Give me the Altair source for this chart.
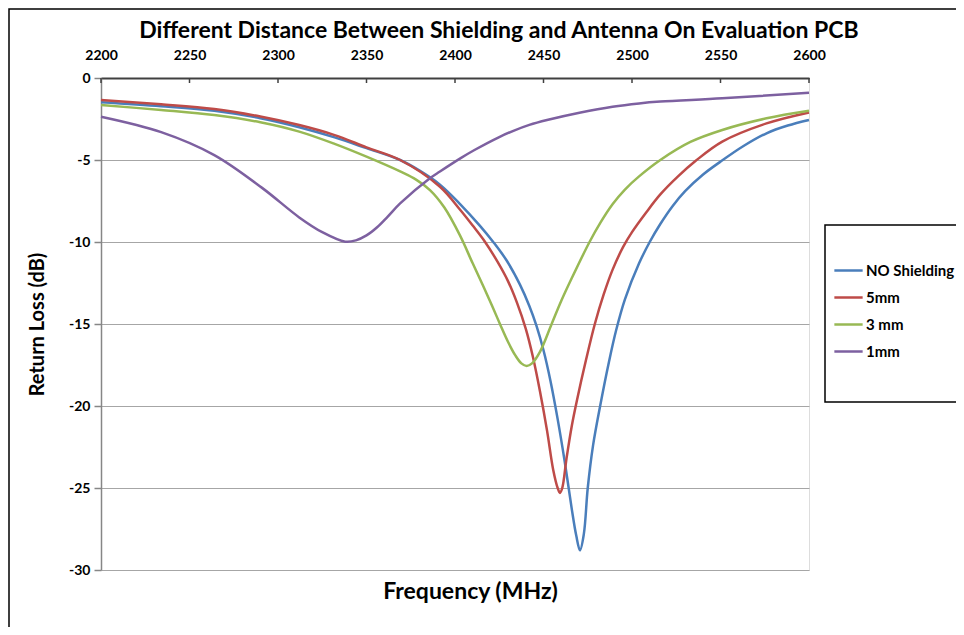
import altair as alt
import pandas as pd

# ---------------- data ----------------
series_names = ["NO Shielding", "5mm", "3 mm", "1mm"]
series_colors = ["#4a7ebb", "#be4b48", "#98b954", "#7d60a0"]

x_ticks = [2200, 2250, 2300, 2350, 2400, 2450, 2500, 2550, 2600]
y_ticks = [0, -5, -10, -15, -20, -25, -30]

freq_none = [2200, 2234, 2264, 2290, 2312, 2332, 2350, 2369, 2380, 2391.5, 2403, 2414,
             2421.6, 2429, 2436.7, 2442, 2446, 2450, 2454, 2458, 2462, 2466, 2468.5,
             2470.6, 2472.8, 2475, 2478, 2482, 2487, 2491, 2496, 2504, 2510, 2516, 2523,
             2530, 2540, 2550, 2563, 2576, 2588, 2600]
rl_none = [-1.48, -1.72, -2.0, -2.45, -3.0, -3.62, -4.28, -5.0, -5.65, -6.5, -7.7, -9.0,
           -10.0, -11.1, -12.6, -13.9, -15.1, -16.6, -18.5, -20.8, -23.4, -26.3, -27.9,
           -28.8, -27.8, -25.0, -22.4, -20.0, -17.3, -15.4, -13.5, -11.3, -10.0, -8.9, -7.8,
           -6.9, -5.9, -5.1, -4.15, -3.37, -2.9, -2.56]

freq_5mm = [2200, 2234, 2264, 2290, 2312, 2332, 2350, 2369, 2391.5, 2403, 2410, 2417,
            2424, 2430, 2435, 2440, 2444, 2448, 2452, 2455.5, 2458, 2459.3, 2460.6,
            2463, 2466, 2469, 2474, 2479, 2484, 2489, 2495, 2500, 2508, 2516, 2526,
            2536, 2551, 2576, 2600]
rl_5mm = [-1.34, -1.6, -1.89, -2.35, -2.87, -3.48, -4.23, -5.0, -6.63, -8.05, -9.0, -10.0,
          -11.2, -12.4, -13.7, -15.3, -17.0, -19.1, -21.5, -23.9, -25.0, -25.3, -25.0,
          -23.2, -21.2, -19.6, -17.2, -15.0, -13.2, -11.7, -10.3, -9.4, -8.2, -7.1, -6.0,
          -5.05, -3.88, -2.77, -2.1]

freq_3mm = [2200, 2234, 2264, 2290, 2312, 2332, 2350, 2369, 2378, 2386, 2394, 2402.8,
            2410, 2416, 2421, 2425.4, 2430, 2434, 2437.5, 2440.5, 2443.5, 2448, 2454.6,
            2460, 2466, 2476, 2482, 2489, 2496, 2504, 2516, 2533, 2551, 2576, 2600]
rl_3mm = [-1.65, -1.95, -2.26, -2.7, -3.27, -4.02, -4.8, -5.7, -6.2, -6.85, -7.9, -9.6,
          -11.3, -12.7, -13.9, -15.0, -16.1, -16.9, -17.4, -17.56, -17.4, -16.7, -15.0,
          -13.6, -12.2, -10.0, -8.85, -7.7, -6.8, -6.0, -5.0, -3.9, -3.17, -2.46, -2.0]

freq_1mm = [2200, 2234, 2264, 2291, 2312, 2325, 2338, 2344, 2350, 2356, 2362, 2369,
            2386, 2391.5, 2403, 2411, 2425, 2433, 2442, 2452, 2471, 2489, 2504, 2516,
            2551, 2600]
rl_1mm = [-2.36, -3.3, -4.7, -6.7, -8.5, -9.4, -9.98, -9.9, -9.6, -9.1, -8.45, -7.65,
          -6.1, -5.7, -4.9, -4.39, -3.6, -3.22, -2.86, -2.56, -2.1, -1.75, -1.55, -1.44,
          -1.24, -0.9]

chart_title = "Different Distance Between Shielding and Antenna On Evaluation PCB"
x_title = "Frequency (MHz)"
y_title = "Return Loss (dB)"

rows = []
for name, fr, rl in zip(series_names,
                        [freq_none, freq_5mm, freq_3mm, freq_1mm],
                        [rl_none, rl_5mm, rl_3mm, rl_1mm]):
    for f, v in zip(fr, rl):
        rows.append({"series": name, "freq": f, "rl": v})
df = pd.DataFrame(rows)
tick_df = pd.DataFrame({"freq": x_ticks})
title_df = pd.DataFrame({"text": [chart_title]})
one = pd.DataFrame({"a": [0]})

FONT = "Lato"
W, H = 708, 492

xscale = alt.Scale(domain=[2200, 2600], nice=False, zero=False)
yscale = alt.Scale(domain=[-30, 0], nice=False)

# outer chart border (only left/top visible, rest clipped)
border = alt.Chart(one).mark_rect(fill=None, stroke="#000000", strokeWidth=1.5).encode(
    x=alt.value(-92), y=alt.value(-69), x2=alt.value(900), y2=alt.value(620)
)
# legend frame
legend_box = alt.Chart(one).mark_rect(fill="white", stroke="#000000", strokeWidth=1.5).encode(
    x=alt.value(724), y=alt.value(147), x2=alt.value(900), y2=alt.value(324)
)

title_mark = alt.Chart(title_df).mark_text(
    font=FONT, fontSize=23, fontWeight="bold", color="#000000",
    align="center", baseline="alphabetic"
).encode(text="text:N", x=alt.value(398), y=alt.value(-40))

lines = alt.Chart(df).mark_line(strokeWidth=2.5, interpolate="catmull-rom").encode(
    x=alt.X("freq:Q", scale=xscale,
            axis=alt.Axis(orient="top", values=x_ticks, format="d",
                          labelFont=FONT, labelFontWeight="bold", labelFontSize=14,
                          labelColor="#000000", labelBaseline="middle",
                          labelPadding=23, tickSize=0, ticks=False,
                          domainColor="#404040", domainWidth=2, grid=False,
                          title=x_title, titleFont=FONT, titleFontWeight="bold",
                          titleFontSize=23, titleColor="#000000",
                          titleX=369, titleY=513, titleAlign="center",
                          titleBaseline="middle", labelFlush=False)),
    y=alt.Y("rl:Q", scale=yscale,
            axis=alt.Axis(values=y_ticks,
                          labelExpr="datum.value == 0 ? '0' : '-' + abs(datum.value)",
                          labelFont=FONT, labelFontWeight="bold", labelFontSize=14,
                          labelColor="#000000", labelPadding=4,
                          tickSize=7, tickColor="#868686", tickWidth=1.5,
                          domainColor="#868686", domainWidth=1.5,
                          grid=True, gridColor="#a6a6a6", gridWidth=1.2,
                          title=y_title, titleFont=FONT, titleFontWeight="bold",
                          titleFontSize=20, titleColor="#000000",
                          titleX=-64, titleY=246, titleAngle=270,
                          titleAlign="center", titleBaseline="middle")),
    color=alt.Color("series:N",
                    scale=alt.Scale(domain=series_names, range=series_colors),
                    legend=alt.Legend(orient="none", legendX=732, legendY=177,
                                      title=None, symbolType="stroke",
                                      symbolSize=800, symbolStrokeWidth=2.5,
                                      labelFont=FONT, labelFontWeight="bold",
                                      labelFontSize=15, labelColor="#000000",
                                      labelOffset=2, rowPadding=3, padding=0)),
)

ticks = alt.Chart(tick_df).mark_rule(color="#404040", strokeWidth=1.5).encode(
    x=alt.X("freq:Q", scale=xscale),
    y=alt.value(0), y2=alt.value(5)
)

chart = alt.layer(border, legend_box, title_mark, lines, ticks).properties(
    width=W, height=H,
    padding={"left": 93, "top": 70, "right": 147, "bottom": 57},
    autosize=alt.AutoSizeParams(type="none"),
).configure_view(stroke="#404040", strokeWidth=2).configure(background="white")

chart.save("out.html", embed_options={"renderer": "svg", "actions": False})
